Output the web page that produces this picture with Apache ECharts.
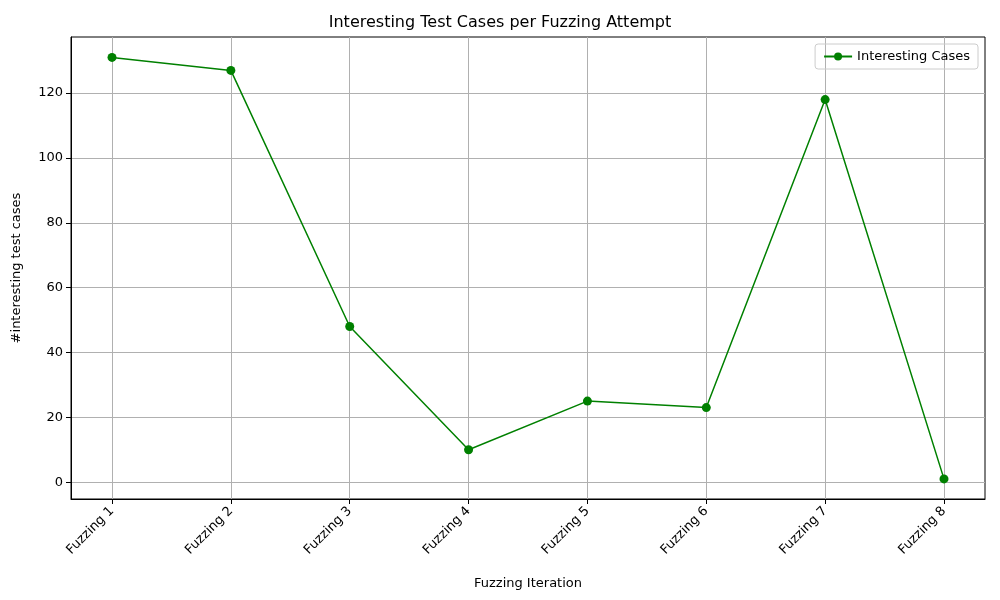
<!DOCTYPE html>
<html>
<head>
<meta charset="utf-8">
<script src="https://cdn.jsdelivr.net/npm/echarts@6/dist/echarts.min.js"></script>
<style>html,body{margin:0;padding:0;background:#fff}#main{width:1000px;height:600px}</style>
</head>
<body>
<div id="main"></div>
<script>
var categories = ['Fuzzing 1', 'Fuzzing 2', 'Fuzzing 3', 'Fuzzing 4', 'Fuzzing 5', 'Fuzzing 6', 'Fuzzing 7', 'Fuzzing 8'];
var interestingCases = [131, 127, 48, 10, 25, 23, 118, 1];
var yTicks = [0, 20, 40, 60, 80, 100, 120];

var chart = echarts.init(document.getElementById('main'));
var font = 'DejaVu Sans';
var points = interestingCases.map(function (v, i) { return [i, v]; });

chart.setOption({
    animation: false,
    textStyle: { fontFamily: font },
    title: {
        text: 'Interesting Test Cases per Fuzzing Attempt',
        left: 'center', top: 10,
        textStyle: { fontFamily: font, fontSize: 16, fontWeight: 'normal', color: '#000' }
    },
    legend: {
        right: 22, top: 44,
        data: ['Interesting Cases'],
        itemWidth: 28, itemHeight: 10,
        textStyle: { fontFamily: font, fontSize: 13, color: '#000' },
        borderColor: '#ccc', borderWidth: 1, borderRadius: 3, padding: [6, 8]
    },
    grid: { left: 71, right: 15, top: 37, bottom: 101, show: true, borderColor: '#000', borderWidth: 1 },
    xAxis: {
        type: 'value', min: -0.345, max: 7.345,
        name: 'Fuzzing Iteration', nameLocation: 'middle', nameGap: 78,
        nameTextStyle: { fontFamily: font, fontSize: 13, color: '#000' },
        axisLine: { onZero: false, lineStyle: { color: '#000' } },
        axisTick: { customValues: [0, 1, 2, 3, 4, 5, 6, 7], length: 5, lineStyle: { color: '#000' } },
        axisLabel: {
            customValues: [0, 1, 2, 3, 4, 5, 6, 7], rotate: 45, fontSize: 13, color: '#000', margin: 10,
            formatter: function (v) { return categories[Math.round(v)]; }
        },
        splitLine: { show: true, lineStyle: { color: '#b0b0b0' } }
    },
    yAxis: {
        type: 'value', min: -5.2, max: 137.3,
        name: '#interesting test cases', nameLocation: 'middle', nameGap: 48,
        nameTextStyle: { fontFamily: font, fontSize: 13, color: '#000' },
        axisLine: { show: true, onZero: false, lineStyle: { color: '#000' } },
        axisTick: { show: true, customValues: yTicks, length: 5, lineStyle: { color: '#000' } },
        axisLabel: { customValues: yTicks, fontSize: 13, color: '#000' },
        splitLine: { show: true, lineStyle: { color: '#b0b0b0' } }
    },
    series: [{
        name: 'Interesting Cases',
        type: 'line',
        data: points,
        symbol: 'circle', symbolSize: 9,
        itemStyle: { color: 'green' },
        lineStyle: { color: 'green', width: 1.5 }
    }]
});
</script>
</body>
</html>
